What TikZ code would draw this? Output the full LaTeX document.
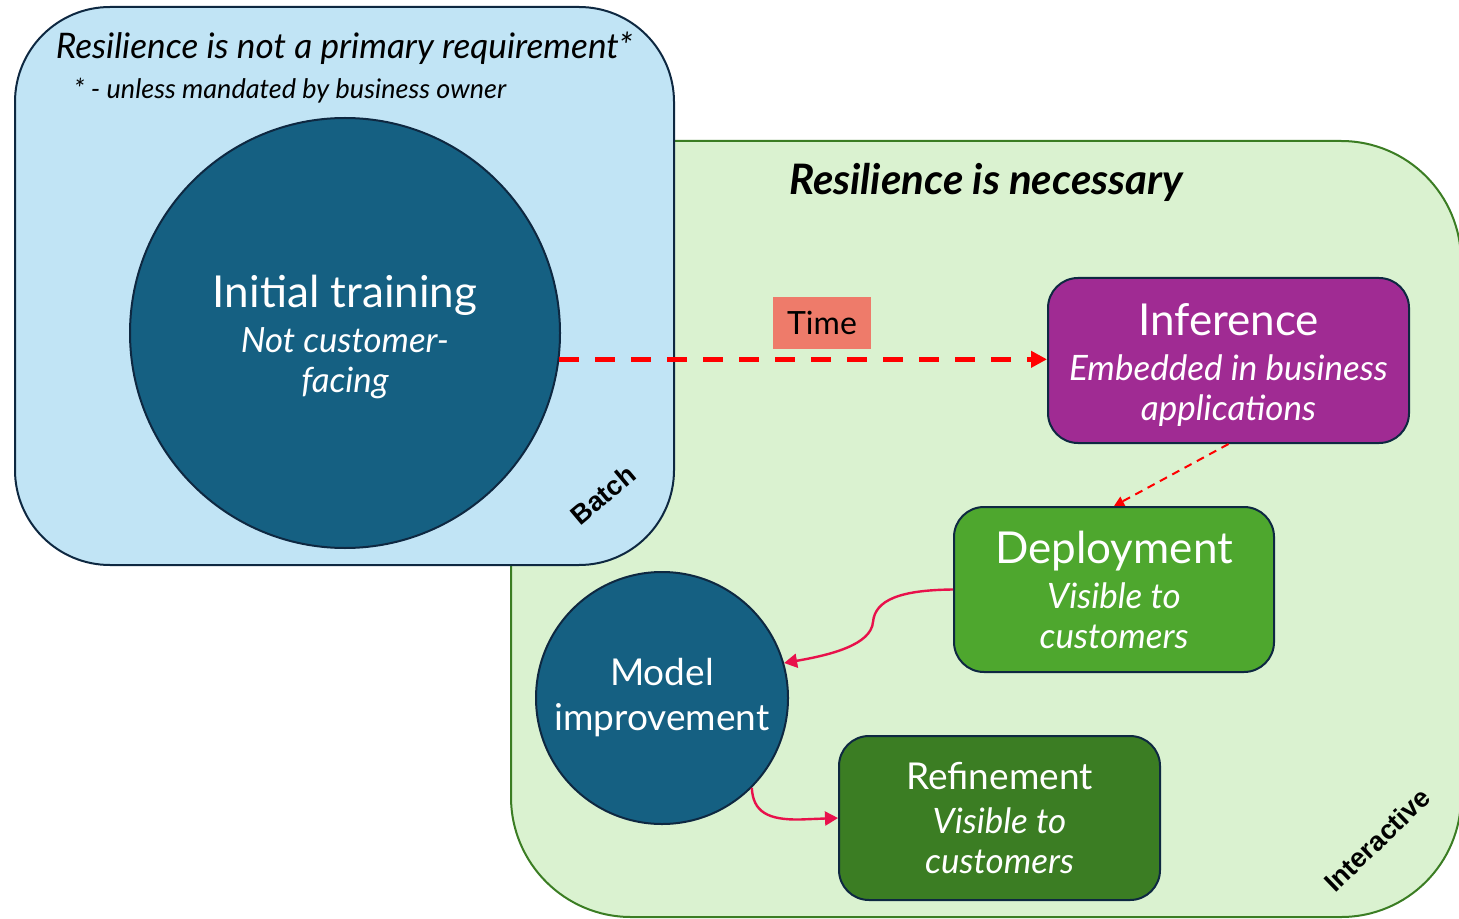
\documentclass[tikz,border=0pt]{standalone}
\usepackage{fontspec}
\setmainfont{Lato}
\newfontfamily\tagfont{Liberation Sans}
\usetikzlibrary{arrows.meta}

\definecolor{batchfill}{HTML}{C1E4F5}
\definecolor{interfill}{HTML}{DAF2D0}
\definecolor{interline}{HTML}{3B7D23}
\definecolor{navy}{HTML}{0E2841}
\definecolor{stageblue}{HTML}{156082}
\definecolor{inferpurple}{HTML}{A02B93}
\definecolor{deploygreen}{HTML}{4EA72E}
\definecolor{refinegreen}{HTML}{3B7D23}
\definecolor{timesalmon}{HTML}{EE7B6A}
\definecolor{flowred}{HTML}{FF0000}
\definecolor{loopred}{HTML}{E8114B}

\begin{document}
\begin{tikzpicture}[x=0.5pt,y=-0.5pt,
    every node/.style={inner sep=0pt,align=center},
    stage/.style={draw=navy,line width=1pt,rounded corners=15pt,text=white,
      minimum height=82.5pt,font=\itshape\fontsize{17.5}{20}\selectfont},
    bubble/.style={circle,draw=navy,line width=1pt,fill=stageblue,text=white},
    dashflow/.style={draw=flowred,line width=2.5pt,dash pattern=on 10pt off 8pt,
      -{Triangle[length=8pt,width=8pt]}},
    handoff/.style={draw=flowred,line width=1pt,dash pattern=on 4pt off 3pt,
      -{Triangle[length=5pt,width=5pt]}},
    loopback/.style={draw=loopred,line width=1.2pt,
      -{Triangle[length=6.5pt,width=7pt]}},
    tag/.style={font=\tagfont\bfseries\fontsize{13.5}{13.5}\selectfont}]
  \useasboundingbox (0,0) rectangle (1459,919);
  \clip (0,0) rectangle (1459,919);

  % the two regions, batch on top
  \draw[fill=interfill,draw=interline,line width=1pt,rounded corners=60pt]
    (511,141) rectangle (1461,917);
  \draw[fill=batchfill,draw=navy,line width=1pt,rounded corners=47.5pt]
    (15,7) rectangle (674,565);

  \node[font=\itshape\fontsize{17.6}{20}\selectfont] (batchhead) at (344,48)
    {Resilience is not a primary requirement*};
  \node[font=\itshape\fontsize{13.5}{15}\selectfont] (batchnote) at (290,91)
    {* - unless mandated by business owner};
  \node[font=\bfseries\itshape\fontsize{21}{24}\selectfont] (interhead) at (986,182)
    {Resilience is necessary};

  % stages
  \node[bubble,minimum size=215pt,font=\itshape\fontsize{17.4}{20}\selectfont]
    (initial) at (345,333)
    {{\upshape\fontsize{22}{22}\selectfont\rule{0pt}{20pt}Initial training}\\[2.5pt]
     Not customer-\\ facing};
  \node[stage,fill=inferpurple,minimum width=180.5pt] (infer) at (1228.5,360.5)
    {{\upshape\fontsize{22}{22}\selectfont\rule{0pt}{20pt}Inference}\\[2.5pt]
     Embedded in business\\ applications};
  \node[stage,fill=deploygreen,minimum width=160pt] (deploy) at (1114,589.5)
    {{\upshape\fontsize{22}{22}\selectfont Deployment}\\[2.5pt]
     Visible to\\ customers};
  \node[bubble,minimum size=126pt,font=\fontsize{18.5}{22.5}\selectfont]
    (model) at (662,698) {Model\\ improvement};
  \node[stage,fill=refinegreen,minimum width=160.5pt,minimum height=82pt]
    (refine) at (999.5,818)
    {{\upshape\fontsize{18.5}{18.5}\selectfont Refinement}\\[2pt]
     Visible to\\ customers};

  \node[tag,rotate=40] (batchtag) at (603,495) {Batch};
  \node[tag,rotate=44] (intertag) at (1377,840) {Interactive};

  % flow between stages
  \draw[dashflow] (initial.-7) -- (initial.-7 -| infer.west);
  \node[fill=timesalmon,minimum width=49pt,minimum height=26pt,
    font=\fontsize{16}{18}\selectfont] (time) at (822,323) {Time};
  \draw[handoff] (infer.south) -- (deploy.north);
  \draw[loopback] (deploy.west) .. controls (900,590) and (875,600) .. (873,622)
    .. controls (871,645) and (830,655) .. (model.16);
  \draw[loopback] (model.-45) .. controls (753,812) and (768,820) .. (800,819.5)
    -- (refine.west);
\end{tikzpicture}
\end{document}
